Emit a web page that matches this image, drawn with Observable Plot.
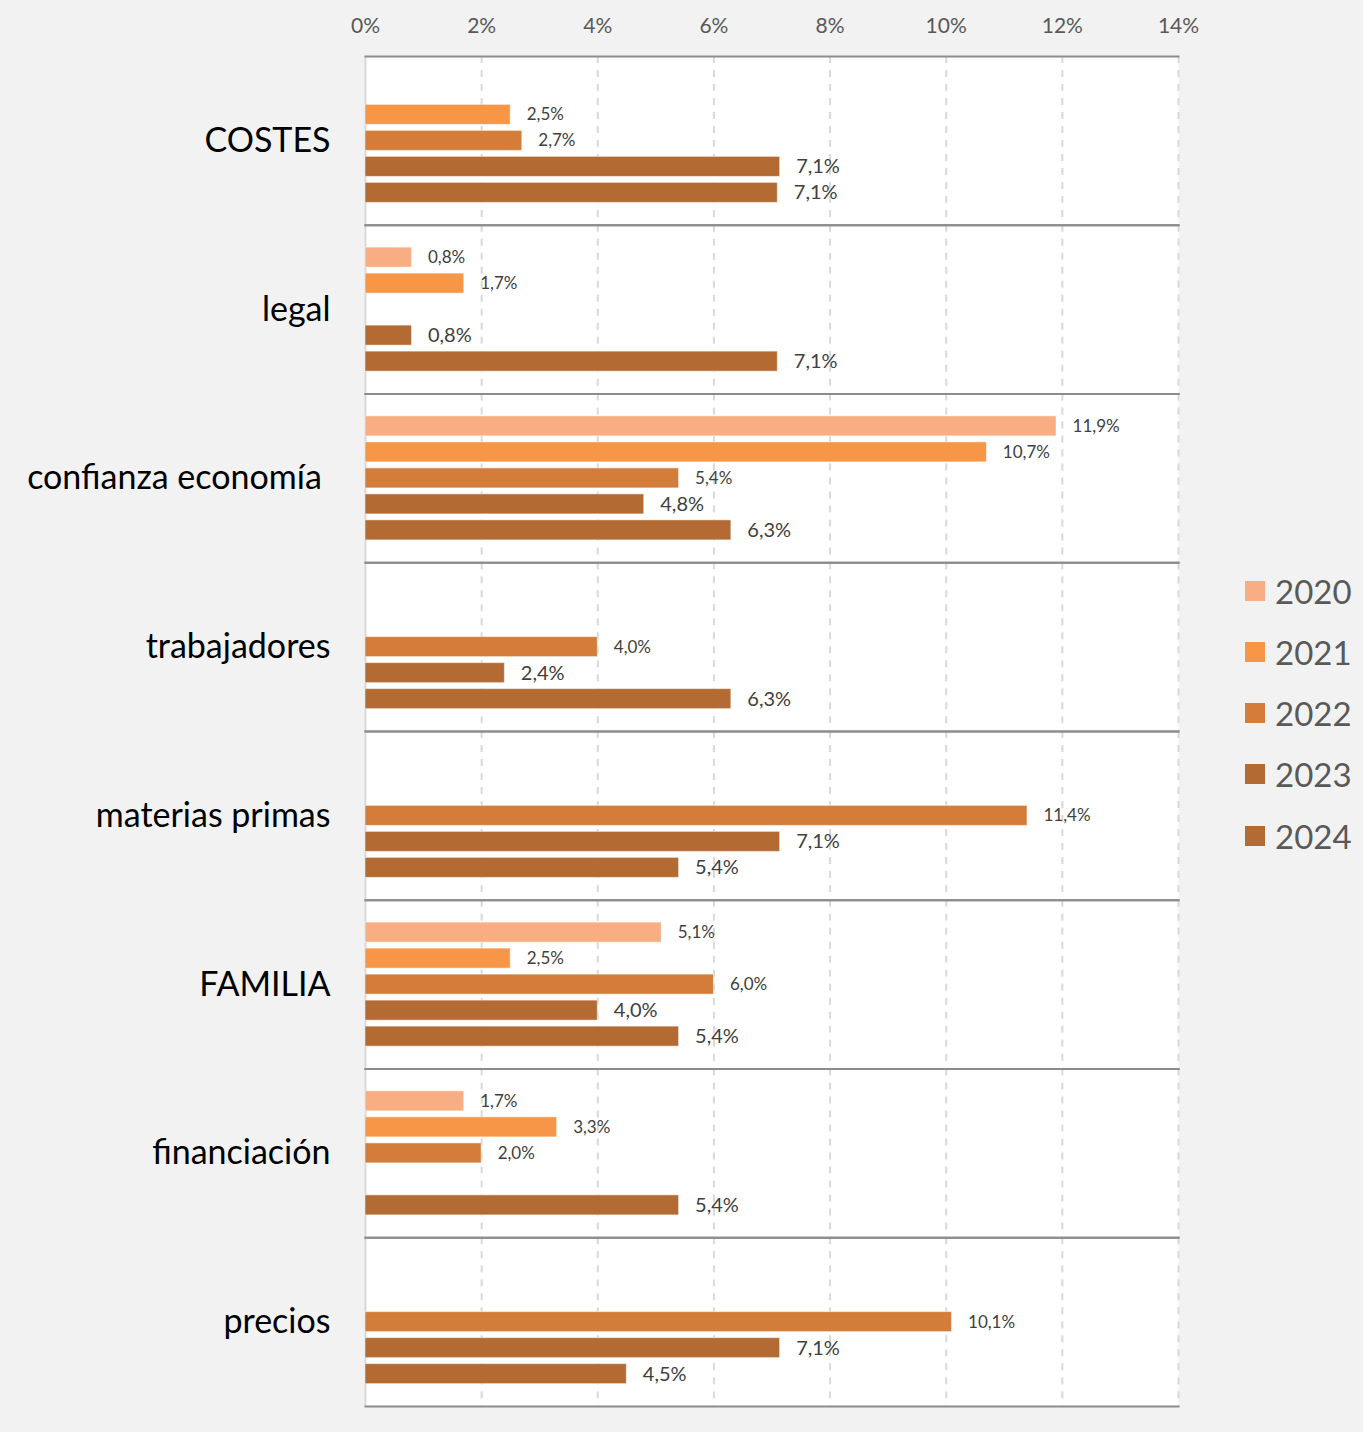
<!DOCTYPE html>
<html>
<head>
<meta charset="utf-8">
<script src="https://cdn.jsdelivr.net/npm/d3@7"></script>
<script src="https://cdn.jsdelivr.net/npm/@observablehq/plot@0.6"></script>
<style>
  html, body { margin: 0; padding: 0; background: #f2f2f2; }
  #wrap { position: relative; width: 1363px; height: 1432px; }
  #legend { position: absolute; left: 1245px; top: 560px; font-family: Lato, "Open Sans", sans-serif; }
  .li { display: flex; align-items: center; height: 61.25px; }
  .sw { width: 20px; height: 20px; margin-right: 10px; }
  .lt { font-size: 33px; color: #595959; }
</style>
</head>
<body>
<div id="wrap"><div id="chart"></div><div id="legend"></div></div>
<script>
const categories = ["COSTES", "legal", "confianza economía", "trabajadores", "materias primas", "FAMILIA", "financiación", "precios"];
const years = ["2020", "2021", "2022", "2023", "2024"];
const v2020 = [null, 0.8, 11.9, null, null, 5.1, 1.7, null];
const v2021 = [2.5, 1.7, 10.7, null, null, 2.5, 3.3, null];
const v2022 = [2.7, null, 5.4, 4.0, 11.4, 6.0, 2.0, 10.1];
const v2023 = [7.14, 0.8, 4.8, 2.4, 7.14, 4.0, null, 7.14];
const v2024 = [7.1, 7.1, 6.3, 6.3, 5.4, 5.4, 5.4, 4.5];
const xTicks = [0, 2, 4, 6, 8, 10, 12, 14];
const colors = ["#f8ae82", "#f79646", "#d47d3a", "#b46b33", "#b46b33"];

const series = [v2020, v2021, v2022, v2023, v2024];
const data = [];
categories.forEach((c, i) => {
  years.forEach((y, j) => {
    const v = series[j][i];
    if (v != null) data.push({cat: c, year: y, value: v});
  });
});
const fmt = v => v.toFixed(1).replace(".", ",") + "%";
const font = "Lato, 'Open Sans', sans-serif";

const chart = Plot.plot({
  width: 1363,
  height: 1432,
  marginLeft: 365,
  marginRight: 185,
  marginTop: 56,
  marginBottom: 26,
  style: {background: "transparent", fontFamily: font},
  x: {domain: [0, 14]},
  y: {domain: years, paddingInner: 0.23, paddingOuter: 0.86, round: false, axis: null},
  fy: {domain: categories, padding: 0, round: false, axis: null},
  color: {domain: years, range: colors},
  marks: [
    Plot.frame({fill: "white", stroke: null}),
    Plot.gridX({ticks: xTicks.slice(1), stroke: "#d9d9d9", strokeOpacity: 1, strokeWidth: 2, strokeDasharray: "7,7"}),
    Plot.ruleX([0], {stroke: "#d9d9d9", strokeWidth: 2}),
    Plot.barX(data, {x: "value", y: "year", fy: "cat", fill: "year", stroke: "#ffffff", strokeOpacity: 0.5, strokeWidth: 1}),
    Plot.text(data.filter(d => d.year <= "2022"), {x: "value", y: "year", fy: "cat", text: d => fmt(d.value), textAnchor: "start", dx: 16, fontSize: 17, fill: "#404040"}),
    Plot.text(data.filter(d => d.year > "2022"), {x: "value", y: "year", fy: "cat", text: d => fmt(d.value), textAnchor: "start", dx: 16, fontSize: 20, fill: "#404040"}),
    Plot.frame({anchor: "top", stroke: "#8c8c8c", strokeWidth: 2}),
    Plot.frame({anchor: "bottom", stroke: "#8c8c8c", strokeWidth: 2}),
    Plot.axisX({anchor: "top", ticks: xTicks, tickFormat: d => d + "%", tickSize: 0, tickPadding: 24, fontSize: 21, color: "#595959", label: null}),
    Plot.axisFy({anchor: "left", tickSize: 0, tickPadding: 35, fontSize: 34, color: "#000000", label: null,
      tickFormat: d => d === "confianza economía" ? d + "\u00a0" : d})
  ]
});
document.getElementById("chart").appendChild(chart);

const legend = document.getElementById("legend");
years.forEach((y, j) => {
  const row = document.createElement("div");
  row.className = "li";
  row.innerHTML = `<div class="sw" style="background:${colors[j]}"></div><span class="lt">${y}</span>`;
  legend.appendChild(row);
});
</script>
</body>
</html>
